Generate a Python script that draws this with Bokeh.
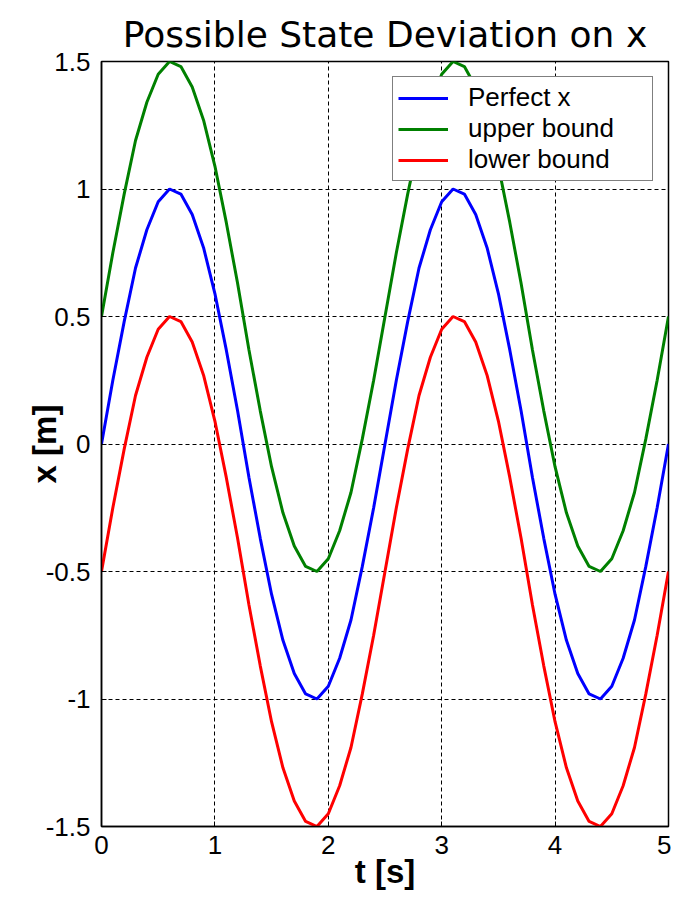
from bokeh.plotting import figure
from bokeh.models import Legend, LegendItem, FixedTicker, Range1d
from bokeh.embed import file_html
from bokeh.resources import INLINE

t = [0.0, 0.1, 0.2, 0.3, 0.4, 0.5, 0.6, 0.7, 0.8, 0.9,
     1.0, 1.1, 1.2, 1.3, 1.4, 1.5, 1.6, 1.7, 1.8, 1.9,
     2.0, 2.1, 2.2, 2.3, 2.4, 2.5, 2.6, 2.7, 2.8, 2.9,
     3.0, 3.1, 3.2, 3.3, 3.4, 3.5, 3.6, 3.7, 3.8, 3.9,
     4.0, 4.1, 4.2, 4.3, 4.4, 4.5, 4.6, 4.7, 4.8, 4.9, 5.0]

perfect_x = [0.0, 0.25, 0.48, 0.69, 0.84, 0.95, 1.0, 0.98, 0.9, 0.77,
             0.59, 0.37, 0.13, -0.13, -0.37, -0.59, -0.77, -0.9, -0.98, -1.0,
             -0.95, -0.84, -0.69, -0.48, -0.25, 0.0, 0.25, 0.48, 0.69, 0.84,
             0.95, 1.0, 0.98, 0.9, 0.77, 0.59, 0.37, 0.13, -0.13, -0.37,
             -0.59, -0.77, -0.9, -0.98, -1.0, -0.95, -0.84, -0.69, -0.48, -0.25, 0.0]

upper_bound = [0.5, 0.75, 0.98, 1.19, 1.34, 1.45, 1.5, 1.48, 1.4, 1.27,
               1.09, 0.87, 0.63, 0.37, 0.13, -0.09, -0.27, -0.4, -0.48, -0.5,
               -0.45, -0.34, -0.19, 0.02, 0.25, 0.5, 0.75, 0.98, 1.19, 1.34,
               1.45, 1.5, 1.48, 1.4, 1.27, 1.09, 0.87, 0.63, 0.37, 0.13,
               -0.09, -0.27, -0.4, -0.48, -0.5, -0.45, -0.34, -0.19, 0.02, 0.25, 0.5]

lower_bound = [-0.5, -0.25, -0.02, 0.19, 0.34, 0.45, 0.5, 0.48, 0.4, 0.27,
               0.09, -0.13, -0.37, -0.63, -0.87, -1.09, -1.27, -1.4, -1.48, -1.5,
               -1.45, -1.34, -1.19, -0.98, -0.75, -0.5, -0.25, -0.02, 0.19, 0.34,
               0.45, 0.5, 0.48, 0.4, 0.27, 0.09, -0.13, -0.37, -0.63, -0.87,
               -1.09, -1.27, -1.4, -1.48, -1.5, -1.45, -1.34, -1.19, -0.98, -0.75, -0.5]

x_ticks = [0, 1, 2, 3, 4, 5]
y_ticks = [-1.5, -1, -0.5, 0, 0.5, 1, 1.5]
y_tick_labels = ["-1.5", "-1", "-0.5", "0", "0.5", "1", "1.5"]
series_names = ["Perfect x", "upper bound", "lower bound"]
series_colors = ["#0000ff", "#008000", "#ff0000"]

p = figure(width=671, height=897, output_backend="svg", toolbar_location=None,
           x_range=Range1d(0, 5), y_range=Range1d(-1.5, 1.5),
           min_border_left=101, min_border_right=3, min_border_top=61, min_border_bottom=71)

p.title.text = "Possible State Deviation on x"
p.title.text_font = "DejaVu Sans"
p.title.text_font_size = "36px"
p.title.text_font_style = "normal"
p.title.align = "center"
p.title.vertical_align = "top"
p.title.text_color = "black"
p.title.standoff = 10

renderers = []
for ys, c in zip([perfect_x, upper_bound, lower_bound], series_colors):
    r = p.line(t, ys, line_color=c, line_width=3)
    renderers.append(r)

p.xaxis.ticker = FixedTicker(ticks=x_ticks)
p.yaxis.ticker = FixedTicker(ticks=y_ticks)
p.yaxis.major_label_overrides = {v: s for v, s in zip(y_ticks, y_tick_labels)}

for ax in [p.xaxis[0], p.yaxis[0]]:
    ax.major_label_text_font = "Liberation Sans"
    ax.major_label_text_font_size = "26px"
    ax.major_label_text_color = "black"
    ax.axis_label_text_font = "Liberation Sans"
    ax.axis_label_text_font_size = "33px"
    ax.axis_label_text_font_style = "bold"
    ax.axis_label_text_color = "black"
    ax.major_tick_in = 5
    ax.major_tick_out = 0
    ax.minor_tick_line_color = None
    ax.axis_line_color = "black"
    ax.axis_line_width = 1.5
    ax.major_tick_line_color = "black"

p.xaxis.axis_label = "t [s]"
p.yaxis.axis_label = "x [m]"
p.xaxis.major_label_standoff = 9
p.xaxis.axis_label_standoff = -4
p.yaxis.major_label_standoff = 11
p.yaxis.axis_label_standoff = -20

for g in [p.xgrid[0], p.ygrid[0]]:
    g.grid_line_color = "black"
    g.grid_line_dash = "4 3"
    g.grid_line_width = 1
    g.grid_line_alpha = 1

p.outline_line_color = "black"
p.outline_line_width = 1.5
p.background_fill_color = "white"
p.border_fill_color = "white"

legend = Legend(items=[LegendItem(label=n, renderers=[r]) for n, r in zip(series_names, renderers)],
                location="top_right")
legend.border_line_color = "black"
legend.border_line_width = 1.5
legend.background_fill_color = "white"
legend.background_fill_alpha = 1
legend.label_text_font = "Liberation Sans"
legend.label_text_font_size = "26px"
legend.label_text_color = "black"
legend.glyph_width = 50
legend.glyph_height = 26
legend.label_standoff = 20
legend.label_width = 179
legend.padding = 5
legend.spacing = 0
legend.margin = 15
p.add_layout(legend)

open("out.html", "w").write(file_html(p, INLINE))
